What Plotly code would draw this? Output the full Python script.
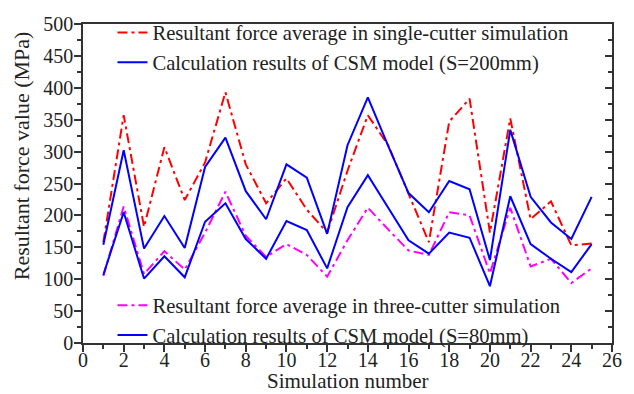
import plotly.graph_objects as go

sim = list(range(1, 26))

single_cutter = [158, 357, 182, 307, 224, 283, 393, 280, 219, 258, 209, 173, 270, 357, 310,
                 235, 158, 347, 383, 173, 352, 194, 222, 153, 156]
csm_200 = [154, 302, 148, 199, 149, 276, 322, 238, 194, 280, 259, 171, 310, 385, 309,
           235, 205, 254, 241, 130, 334, 229, 189, 163, 229]
three_cutter = [105, 214, 108, 144, 115, 173, 237, 168, 135, 155, 138, 104, 161, 212, 178,
                145, 138, 205, 200, 109, 212, 120, 132, 94, 117]
csm_80 = [107, 205, 101, 136, 103, 190, 219, 163, 132, 191, 177, 117, 213, 263, 212,
          161, 140, 173, 165, 89, 230, 155, 132, 111, 155]

FONT = "Liberation Serif, Times New Roman, serif"
DASHDOT = "10px,4px,3px,4px"

fig = go.Figure()
fig.add_trace(go.Scatter(x=sim, y=single_cutter, mode="lines",
                         name="Resultant force average in single-cutter simulation",
                         line=dict(color="#FF0000", width=2, dash=DASHDOT), legend="legend"))
fig.add_trace(go.Scatter(x=sim, y=csm_200, mode="lines",
                         name="Calculation results of CSM model (S=200mm)",
                         line=dict(color="#0000FF", width=2), legend="legend"))
fig.add_trace(go.Scatter(x=sim, y=three_cutter, mode="lines",
                         name="Resultant force average in three-cutter simulation",
                         line=dict(color="#FF00FF", width=2, dash=DASHDOT), legend="legend2"))
fig.add_trace(go.Scatter(x=sim, y=csm_80, mode="lines",
                         name="Calculation results of CSM model (S=80mm)",
                         line=dict(color="#0000FF", width=2), legend="legend2"))

axis_common = dict(showline=True, linecolor="#333333", linewidth=1.5, showgrid=False,
                   zeroline=False, tickcolor="#333333", tickfont=dict(family=FONT, size=20, color="#222"))

fig.update_layout(
    width=634, height=394,
    margin=dict(l=83, r=12, t=17, b=51),
    paper_bgcolor="white", plot_bgcolor="white",
    font=dict(family=FONT, size=20, color="#222"),
    xaxis=dict(range=[0, 26], dtick=2, tick0=0, ticks="outside", ticklen=7, tickwidth=1.5,
               mirror=True, ticklabelstandoff=-9,
               minor=dict(dtick=1, ticks="outside", ticklen=4, tickcolor="#333333"),
               **axis_common),
    yaxis=dict(range=[0, 500], dtick=50, tick0=0, ticks="outside", ticklen=7, tickwidth=1.5,
               mirror=True, ticklabelstandoff=-3,
               minor=dict(dtick=25, ticks="outside", ticklen=4, tickcolor="#333333"),
               **axis_common),
    yaxis2=dict(range=[0, 500], overlaying="y", side="right", dtick=50, tick0=0,
                ticks="inside", ticklen=7, tickwidth=1.5, showticklabels=False,
                showline=False, showgrid=False, zeroline=False, tickcolor="#333333",
                minor=dict(dtick=25, ticks="inside", ticklen=4, tickcolor="#333333")),
    legend=dict(x=0.0557, y=1.036, xanchor="left", yanchor="top", bgcolor="rgba(255,255,255,0)",
                font=dict(family=FONT, size=20.6, color="#222"), tracegroupgap=0),
    legend2=dict(x=0.0557, y=0.181, xanchor="left", yanchor="top", bgcolor="rgba(255,255,255,0)",
                 font=dict(family=FONT, size=20.6, color="#222"), tracegroupgap=0),
    annotations=[
        dict(text="Resultant force value (MPa)", xref="paper", yref="paper",
             x=(20 - 83) / 539, y=(343 - 152) / 326, xanchor="center", yanchor="middle",
             textangle=-90, showarrow=False, font=dict(family=FONT, size=22, color="#222")),
        dict(text="Simulation number", xref="paper", yref="paper",
             x=0.5, y=(343 - 382) / 326, xanchor="center", yanchor="middle",
             showarrow=False, font=dict(family=FONT, size=21, color="#222")),
    ],
)

# invisible trace so the right-hand tick axis renders
fig.add_trace(go.Scatter(x=[None], y=[None], yaxis="y2", showlegend=False, hoverinfo="skip"))

fig.write_html("out.html")
